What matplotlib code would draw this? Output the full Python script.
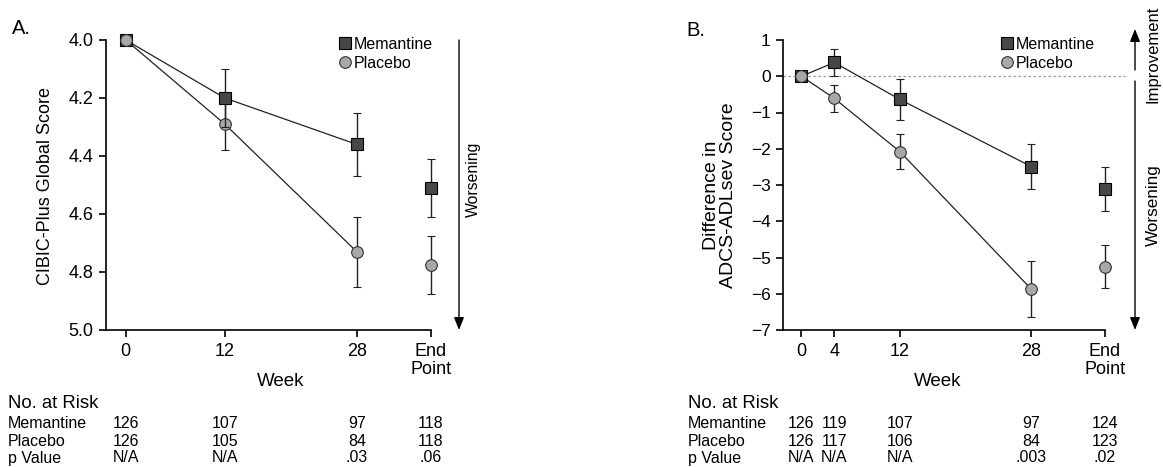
import numpy as np
import matplotlib
matplotlib.use('Agg')
import matplotlib.pyplot as plt
from matplotlib.transforms import blended_transform_factory

plt.rcParams['font.family'] = ['Liberation Sans', 'DejaVu Sans']

# Panel A data (CIBIC-Plus)
weeks_a = [0, 12, 28]
end_a = 37
mem_a = [4.00, 4.20, 4.36]
mem_a_err = [0.0, 0.10, 0.11]
mem_a_end, mem_a_end_err = 4.51, 0.10
pla_a = [4.00, 4.29, 4.73]
pla_a_err = [0.0, 0.09, 0.12]
pla_a_end, pla_a_end_err = 4.775, 0.10
ticks_a = ['0', '12', '28', 'End\nPoint']
risk_mem_a = ['126', '107', '97', '118']
risk_pla_a = ['126', '105', '84', '118']
pval_a = ['N/A', 'N/A', '.03', '.06']

# Panel B data (ADCS-ADLsev)
weeks_b = [0, 4, 12, 28]
end_b = 37
mem_b = [0.0, 0.38, -0.64, -2.49]
mem_b_err = [0.0, 0.38, 0.56, 0.63]
mem_b_end, mem_b_end_err = -3.11, 0.61
pla_b = [0.0, -0.61, -2.08, -5.87]
pla_b_err = [0.0, 0.37, 0.49, 0.76]
pla_b_end, pla_b_end_err = -5.25, 0.59
ticks_b = ['0', '4', '12', '28', 'End\nPoint']
risk_mem_b = ['126', '119', '107', '97', '124']
risk_pla_b = ['126', '117', '106', '84', '123']
pval_b = ['N/A', 'N/A', 'N/A', '.003', '.02']

W, H = 1163, 467
fig = plt.figure(figsize=(W / 100, H / 100), dpi=100)

def px(x0, y0, x1, y1):
    return [x0 / W, 1 - y1 / H, (x1 - x0) / W, (y1 - y0) / H]

def fx(x):
    return x / W

def fy(y):
    return 1 - y / H

mem_style = dict(marker='s', ms=8.2, mfc='#474747', mec='black', mew=0.8)
pla_style = dict(marker='o', ms=8.4, mfc='#a8a8a8', mec='#333333', mew=0.8)
err_style = dict(ecolor='#222222', elinewidth=1.0, capsize=2.6, capthick=1.0)

def draw(ax, weeks, end, mem, mem_err, mem_end, mem_end_err,
         pla, pla_err, pla_end, pla_end_err, tfs, leg_xy):
    ax.errorbar(weeks, pla, yerr=pla_err, color='#222222', lw=0.9,
                clip_on=False, zorder=3, **pla_style, **err_style)
    ax.errorbar([end], [pla_end], yerr=[pla_end_err], ls='none',
                clip_on=False, zorder=3, **pla_style, **err_style)
    ax.errorbar(weeks, mem, yerr=mem_err, color='#222222', lw=0.9,
                clip_on=False, zorder=4, **mem_style, **err_style)
    ax.errorbar([end], [mem_end], yerr=[mem_end_err], ls='none',
                clip_on=False, zorder=4, **mem_style, **err_style)
    ax.plot([0], [pla[0]], ls='none', clip_on=False, zorder=5, **pla_style)
    ax.spines['top'].set_visible(False)
    ax.spines['right'].set_visible(False)
    for s in ['left', 'bottom']:
        ax.spines[s].set_linewidth(1.2)
    ax.tick_params(direction='out', length=5, width=1.2, labelsize=tfs, pad=4)
    # legend
    h1, = ax.plot([], [], ls='none', **mem_style)
    h2, = ax.plot([], [], ls='none', **pla_style)
    ax.legend([h1, h2], ['Memantine', 'Placebo'], loc='upper left',
              bbox_to_anchor=(fx(leg_xy[0]), fy(leg_xy[1])),
              bbox_transform=fig.transFigure, frameon=False, fontsize=11.5,
              handletextpad=0.12, handlelength=0.8, labelspacing=0.22,
              borderaxespad=0, borderpad=0)

# ---- Panel A
axA = fig.add_axes(px(106, 40, 431, 330))
draw(axA, weeks_a, end_a, mem_a, mem_a_err, mem_a_end, mem_a_end_err,
     pla_a, pla_a_err, pla_a_end, pla_a_end_err, 13, (339, 37))
axA.set_xlim(-2.4, end_a)
axA.set_ylim(5.0, 4.0)
axA.set_yticks(np.arange(4.0, 5.01, 0.2))
axA.set_yticklabels(['%.1f' % v for v in np.arange(4.0, 5.01, 0.2)])
axA.set_xticks(weeks_a + [end_a])
axA.set_xticklabels(ticks_a, linespacing=1.12)
fig.text(fx(46), fy(186), 'CIBIC-Plus Global Score', fontsize=13,
         rotation=90, ha='center', va='center')

# ---- Panel B
axB = fig.add_axes(px(783, 40, 1105, 330))
draw(axB, weeks_b, end_b, mem_b, mem_b_err, mem_b_end, mem_b_end_err,
     pla_b, pla_b_err, pla_b_end, pla_b_end_err, 12.5, (1001, 37))
axB.set_xlim(-2.25, end_b)
axB.axhline(0, xmin=0, xmax=1.062, color='#9a9a9a', lw=0.9, ls=(0, (2, 2)),
            clip_on=False, zorder=1)
axB.set_ylim(-7, 1)
axB.set_yticks(range(-7, 2))
axB.set_xticks(weeks_b + [end_b])
axB.set_xticklabels(ticks_b, linespacing=1.12)
for t in axB.get_xticklabels():
    t.set_fontsize(13)
fig.text(fx(720), fy(195), 'Difference in\nADCS-ADLsev Score', fontsize=14,
         rotation=90, ha='center', va='center', linespacing=1.05)

# panel letters
fig.text(fx(12), fy(29), 'A.', fontsize=14.5, va='center')
fig.text(fx(686), fy(31), 'B.', fontsize=14.5, va='center')

# direction arrows
arr = dict(arrowstyle='-|>,head_length=0.75,head_width=0.3', lw=1.0,
           color='black', shrinkA=0, shrinkB=0)

def arrow(x, y0, y1):
    fig.add_artist(plt.Annotation('', xy=(fx(x), fy(y1)), xytext=(fx(x), fy(y0)),
                                  xycoords='figure fraction',
                                  textcoords='figure fraction', arrowprops=arr))

arrow(459, 40, 330)
fig.text(fx(473), fy(179), 'Worsening', rotation=90, fontsize=11.3,
         ha='center', va='center')
arrow(1135, 70, 29)
arrow(1135, 81, 330)
fig.text(fx(1153), fy(54), 'Improvement', rotation=90, fontsize=12,
         ha='center', va='center')
fig.text(fx(1153), fy(205), 'Worsening', rotation=90, fontsize=12.3,
         ha='center', va='center')

# x labels
fig.text(fx(281), fy(381), 'Week', fontsize=13.5, ha='center', va='center')
fig.text(fx(938), fy(381), 'Week', fontsize=13.5, ha='center', va='center')

# tables
def table(ax, x0, xs, mem_r, pla_r, pv):
    tr = blended_transform_factory(ax.transData, fig.transFigure)
    fig.text(fx(x0), fy(403), 'No. at Risk', fontsize=13.3, va='center')
    rows = [('Memantine', mem_r, 423), ('Placebo', pla_r, 441), ('p Value', pv, 458)]
    for lab, vals, y in rows:
        fig.text(fx(x0), fy(y), lab, fontsize=11.5, va='center')
        for x, v in zip(xs, vals):
            fig.text(x, fy(y), v, fontsize=11.5, ha='center', va='center',
                     transform=tr)

table(axA, 8, weeks_a + [end_a], risk_mem_a, risk_pla_a, pval_a)
table(axB, 688, weeks_b + [end_b], risk_mem_b, risk_pla_b, pval_b)

fig.savefig('out.png', dpi=100)
